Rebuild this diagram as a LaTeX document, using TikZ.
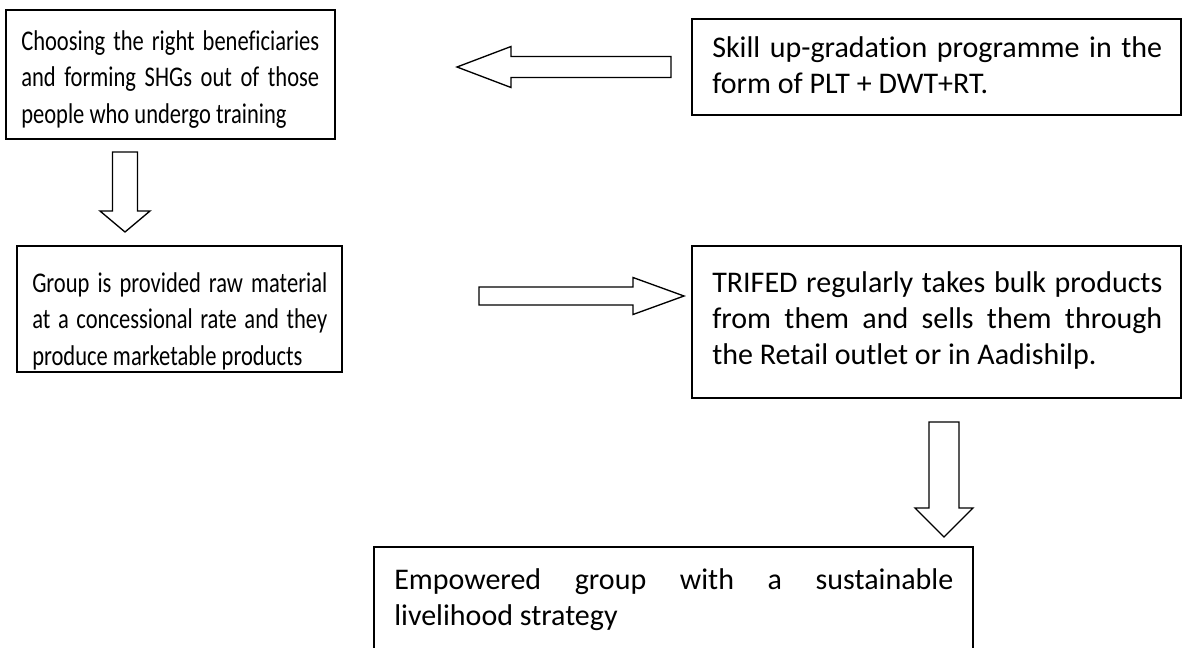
\documentclass[tikz,border=0pt]{standalone}
\usepackage{fontspec}
\setmainfont{Carlito}[Ligatures=NoCommon]
\newfontfamily\narrowfont{Carlito}[FakeStretch=0.79, Ligatures=NoCommon]
\hyphenpenalty=10000
\exhyphenpenalty=10000
\tolerance=10000

% hollow block arrow along +x: tail, rotation, length, shaft, head width, head length
\newcommand{\hollowarrow}[6]{%
    \begin{scope}[shift={(#1)}, rotate=#2]
        \draw[arrowline] (0,-#4/2) -- ({#3-#6},-#4/2) -- ({#3-#6},-#5/2) -- (#3,0)
            -- ({#3-#6},#5/2) -- ({#3-#6},#4/2) -- (0,#4/2) -- cycle;
    \end{scope}
}

\begin{document}
\begin{tikzpicture}[x=0.75pt, y=-0.75pt,
    frame/.style={draw, line width=1.1pt, inner sep=0pt, outer sep=0pt, anchor=north west},
    arrowline/.style={line width=1pt, line join=miter},
    lefttxt/.style={inner sep=0pt, anchor=base west, align=justify,
        font=\narrowfont\fontsize{21.4pt}{27.4pt}\selectfont},
    righttxt/.style={inner sep=0pt, anchor=base west, align=justify,
        font=\fontsize{22.5pt}{27pt}\selectfont}]
    \useasboundingbox (0,0) rectangle (1182,647);
    \clip (0,0) rectangle (1182,647);

    % Boxes
    \node[frame, minimum width=329*0.75pt, minimum height=129*0.75pt] (choose) at (6,10) {};
    \node[frame, minimum width=489*0.75pt, minimum height=96*0.75pt] (skill) at (692,19) {};
    \node[frame, minimum width=325*0.75pt, minimum height=126*0.75pt] (group) at (17,246) {};
    \node[frame, minimum width=489*0.75pt, minimum height=152*0.75pt] (trifed) at (692,246) {};
    \node[frame, minimum width=599*0.75pt, minimum height=140*0.75pt] (empowered) at (374,547) {};

    % Texts
    \node[lefttxt, text width=298*0.75pt] (chooseTxt) at ([shift={(15,40)}]choose.north west)
        {Choosing the right beneficiaries\linebreak and forming SHGs out of those\linebreak people who undergo training};
    \node[righttxt, text width=450*0.75pt] (skillTxt) at ([shift={(20,38)}]skill.north west)
        {Skill up-gradation programme in the\linebreak form of PLT + DWT+RT.};
    \node[lefttxt, text width=295*0.75pt] (groupTxt) at ([shift={(15,46)}]group.north west)
        {Group is provided raw material\linebreak at a concessional rate and they\linebreak produce marketable products};
    \node[righttxt, text width=450*0.75pt] (trifedTxt) at ([shift={(20,46)}]trifed.north west)
        {TRIFED regularly takes bulk products\linebreak from them and sells them through\linebreak the Retail outlet or in Aadishilp.};
    \node[righttxt, text width=559*0.75pt] (empoweredTxt) at ([shift={(20,42)}]empowered.north west)
        {Empowered group with a sustainable\linebreak livelihood strategy};

    % Block arrows between the boxes
    \hollowarrow{[shift={(-21,0)}]skill.west}{180}{214}{21}{41}{54}
    \hollowarrow{[shift={(119,13)}]choose.south west}{-90}{80}{25}{50}{21}
    \hollowarrow{[shift={(137,-13)}]group.east}{0}{205}{18}{37}{51}
    \hollowarrow{[shift={(7.5,24)}]trifed.south}{-90}{115}{30}{58}{29}
\end{tikzpicture}
\end{document}
